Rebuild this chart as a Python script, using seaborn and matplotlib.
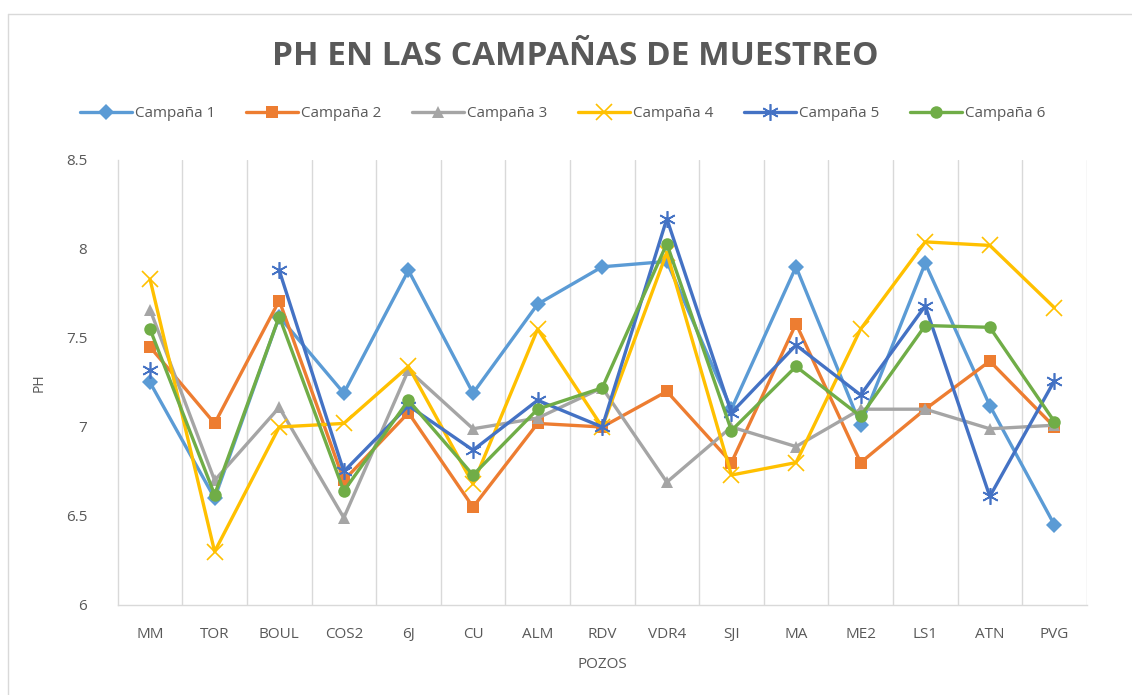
import numpy as np
import pandas as pd
import matplotlib
matplotlib.use("Agg")
import matplotlib.pyplot as plt
import seaborn as sns
from matplotlib.lines import Line2D

# --- datos ---
pozos = ["MM", "TOR", "BOUL", "COS2", "6J", "CU", "ALM", "RDV", "VDR4",
         "SJI", "MA", "ME2", "LS1", "ATN", "PVG"]

campana_1 = [7.25, 6.60, 7.62, 7.19, 7.88, 7.19, 7.69, 7.90, 7.93, 7.10, 7.90, 7.01, 7.92, 7.12, 6.45]
campana_2 = [7.45, 7.02, 7.71, 6.70, 7.08, 6.55, 7.02, 7.00, 7.20, 6.80, 7.58, 6.80, 7.10, 7.37, 7.00]
campana_3 = [7.66, 6.70, 7.11, 6.49, 7.32, 6.99, 7.05, 7.22, 6.69, 7.00, 6.89, 7.10, 7.10, 6.99, 7.01]
campana_4 = [7.83, 6.30, 7.00, 7.02, 7.34, 6.68, 7.55, 7.00, 7.98, 6.73, 6.80, 7.55, 8.04, 8.02, 7.67]
campana_5 = [7.32, np.nan, 7.88, 6.75, 7.12, 6.87, 7.15, 7.00, 8.17, 7.08, 7.46, 7.18, 7.68, 6.61, 7.26]
campana_6 = [7.55, 6.62, 7.62, 6.64, 7.15, 6.73, 7.10, 7.22, 8.03, 6.98, 7.34, 7.06, 7.57, 7.56, 7.03]

series = {
    "Campaña 1": campana_1,
    "Campaña 2": campana_2,
    "Campaña 3": campana_3,
    "Campaña 4": campana_4,
    "Campaña 5": campana_5,
    "Campaña 6": campana_6,
}

colores = ["#5B9BD5", "#ED7D31", "#A5A5A5", "#FFC000", "#4472C4", "#70AD47"]
marcadores = ["D", "s", "^", "x", (6, 2, 0), "o"]
tamanos = [8, 9, 9, 11, 12, 9]

# tabla larga; "tramo" separa los segmentos cortados por valores faltantes
filas = []
for nombre, valores in series.items():
    tramo = 0
    for i, v in enumerate(valores):
        if np.isnan(v):
            tramo += 1
            continue
        filas.append({"campana": nombre, "pos": i, "ph": v, "tramo": tramo})
df = pd.DataFrame(filas)

sns.set_style("white")
plt.rcParams["font.family"] = ["Open Sans", "DejaVu Sans"]

fig = plt.figure(figsize=(11.32, 6.95), dpi=100)
ax = fig.add_axes([0.104, 0.1295, 0.856, 0.6403])

handles = []
for (nombre, _), color, mk, ms in zip(series.items(), colores, marcadores, tamanos):
    sub = df[df["campana"] == nombre]
    mew = 1.2 if mk in ("x", (6, 2, 0)) else 0
    sns.lineplot(data=sub, x="pos", y="ph", units="tramo", estimator=None,
                 sort=False, color=color, linewidth=2.4, marker=mk,
                 markersize=ms, markeredgewidth=mew, markeredgecolor=color,
                 ax=ax, legend=False)
    handles.append(Line2D([0], [0], color=color, linewidth=2.4, marker=mk,
                          markersize=ms, markeredgewidth=mew,
                          markeredgecolor=color, label=nombre))

ax.set_xlim(-0.5, len(pozos) - 0.5)
ax.set_ylim(6, 8.5)
ax.set_yticks([6, 6.5, 7, 7.5, 8, 8.5])
ax.set_yticklabels(["6", "6.5", "7", "7.5", "8", "8.5"])
ax.set_xticks(range(len(pozos)))
ax.set_xticklabels(pozos)

# lineas verticales entre categorias
for b in np.arange(0.5, len(pozos) - 0.5, 1):
    ax.axvline(b, color="#D9D9D9", linewidth=1, zorder=0)
ax.axvline(len(pozos) - 0.5, color="#D9D9D9", linewidth=1, zorder=0)

for s in ["top", "right"]:
    ax.spines[s].set_visible(False)
for s in ["left", "bottom"]:
    ax.spines[s].set_color("#D9D9D9")
    ax.spines[s].set_linewidth(1)

ax.tick_params(axis="both", length=0, colors="#595959", labelsize=11)
ax.tick_params(axis="x", pad=16)
ax.tick_params(axis="y", pad=22)

ax.set_xlabel("POZOS", fontsize=11, color="#595959", labelpad=11)
ax.set_ylabel("PH", fontsize=10, color="#595959", labelpad=14)

fig.text(0.508, 0.918, "PH EN LAS CAMPAÑAS DE MUESTREO", ha="center", va="center",
         fontsize=24, fontweight="bold", color="#595959")

fig.legend(handles=handles, loc="center", bbox_to_anchor=(0.497, 0.836), ncol=6,
           frameon=False, fontsize=11, handlelength=3.4, columnspacing=2.0,
           handletextpad=0.2, labelcolor="#595959")

# marco del area del grafico
fig.add_artist(Line2D([8 / 1132, 1], [1 - 14 / 695, 1 - 14 / 695],
                      transform=fig.transFigure, color="#D9D9D9", linewidth=1))
fig.add_artist(Line2D([8 / 1132, 8 / 1132], [0, 1 - 14 / 695],
                      transform=fig.transFigure, color="#D9D9D9", linewidth=1))

fig.savefig("out.png", dpi=100)
